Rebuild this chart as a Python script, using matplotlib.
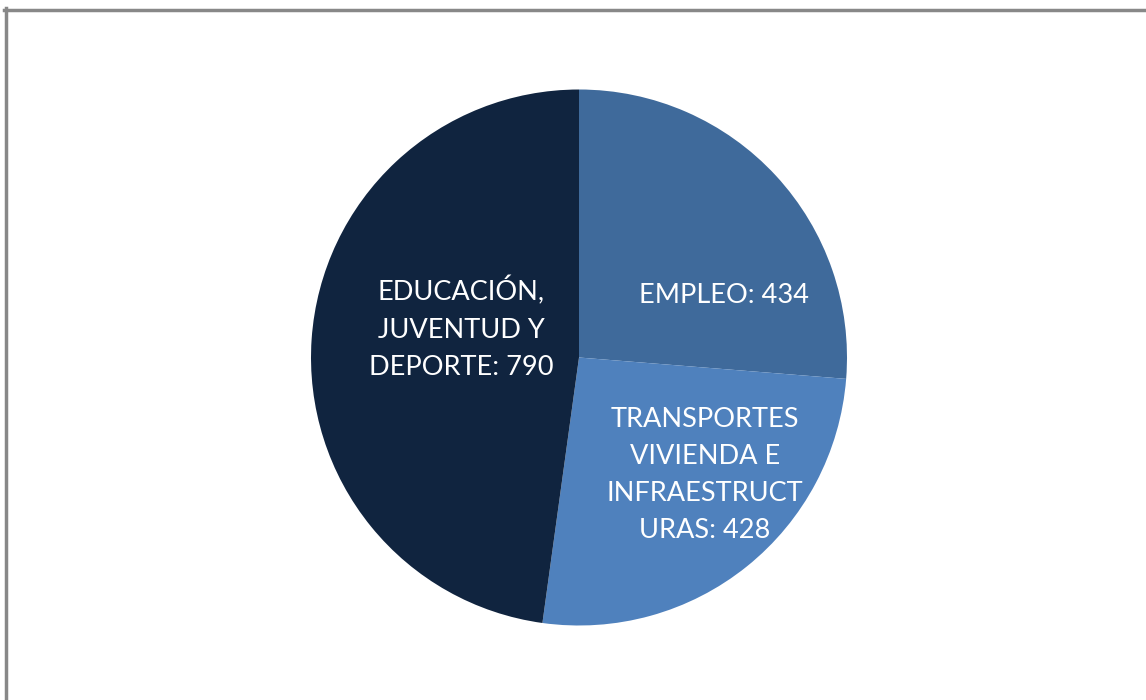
import matplotlib
matplotlib.use("Agg")
import matplotlib.pyplot as plt
from matplotlib.lines import Line2D

# Datos
sectores = ["EMPLEO", "TRANSPORTES\nVIVIENDA E\nINFRAESTRUCT\nURAS", "EDUCACIÓN,\nJUVENTUD Y\nDEPORTE"]
valores = [434, 428, 790]
colores = ["#3F6A9B", "#4F81BD", "#10243F"]

# posiciones de las etiquetas (unidades del radio)
pos_etiquetas = [(0.54, 0.23), (0.47, -0.44), (-0.44, 0.11)]

plt.rcParams['font.family'] = ['Lato', 'DejaVu Sans']

fig = plt.figure(figsize=(11.46, 7.0), dpi=100)
# centro del pie ~ (579, 357.5) px, radio ~ 268 px
ax = fig.add_axes([(579 - 335) / 1146, (342.5 - 335) / 700, 670 / 1146, 670 / 700])

ax.pie(valores, colors=colores, startangle=90, counterclock=False,
       wedgeprops=dict(linewidth=0))
ax.set_xlim(-1.25, 1.25)
ax.set_ylim(-1.25, 1.25)
ax.set_aspect('equal')

for nombre, v, (x, y) in zip(sectores, valores, pos_etiquetas):
    ax.text(x, y, f"{nombre}: {v}", color="white", fontsize=19.5,
            ha="center", va="center", multialignment="center", linespacing=1.6)

# marco gris (solo se ve arriba y a la izquierda)
fig.add_artist(Line2D([4 / 1146, 1], [1 - 9.5 / 700, 1 - 9.5 / 700],
                      transform=fig.transFigure, color="#888888", lw=2.5))
fig.add_artist(Line2D([5.5 / 1146, 5.5 / 1146], [0, 1 - 8 / 700],
                      transform=fig.transFigure, color="#888888", lw=2.5))

fig.savefig("out.png", dpi=100)
